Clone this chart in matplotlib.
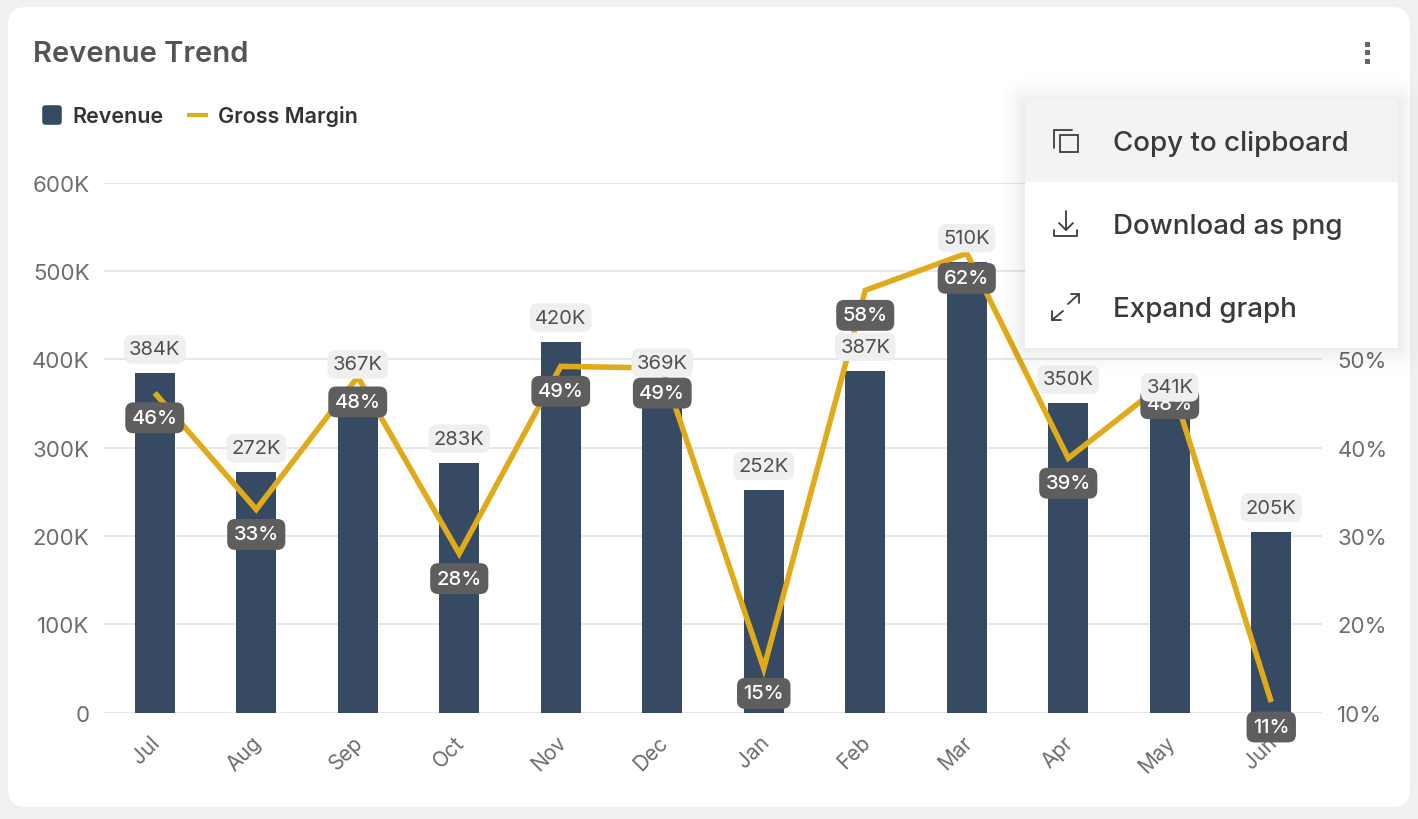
"""Revenue Trend card: revenue bars, gross margin line, open export menu."""

import matplotlib

matplotlib.use("Agg")
import matplotlib.pyplot as plt
from matplotlib.lines import Line2D
from matplotlib.markers import MarkerStyle
from matplotlib.patches import FancyBboxPatch, Rectangle
from matplotlib.transforms import ScaledTranslation

months = ["Jul", "Aug", "Sep", "Oct", "Nov", "Dec", "Jan", "Feb", "Mar", "Apr", "May", "Jun"]
revenue = [384, 272, 367, 283, 420, 369, 252, 387, 510, 350, 341, 205]
margin = [46.2, 33.0, 48.0, 28.0, 49.2, 49.0, 15.0, 57.8, 62.0, 38.8, 47.8, 11.2]
margin_labels = ["46%", "33%", "48%", "28%", "49%", "49%", "15%", "58%", "62%", "39%", "48%", "11%"]
revenue_ticks = [0, 100, 200, 300, 400, 500, 600]
revenue_tick_labels = ["0", "100K", "200K", "300K", "400K", "500K", "600K"]
margin_ticks = [10, 20, 30, 40, 50, 60, 70]
menu_items = ["Copy to clipboard", "Download as png", "Expand graph"]

NAVY = "#364a63"
GOLD = "#e0ab1b"
GRID = "#e1e2ee"
TICK = "#6d6d6d"
PX = 0.72  # points per pixel at dpi 100

plt.rcParams["font.family"] = ["Inter", "DejaVu Sans"]

fig = plt.figure(figsize=(14.18, 8.2), dpi=100, facecolor="#f2f0ee")


def pixel_axes(zorder):
    # full-figure axes in image pixels, for the card and menu chrome
    a = fig.add_axes([0, 0, 1, 1], zorder=zorder)
    a.set_xlim(0, 1418)
    a.set_ylim(820, 0)
    a.axis("off")
    return a


def rounded(a, x, y, w, h, r, **kw):
    a.add_patch(FancyBboxPatch((x + r, y + r), w - 2 * r, h - 2 * r,
                               boxstyle=f"round,pad={r},rounding_size={r}", lw=0, **kw))


# card
back = pixel_axes(0)
rounded(back, 8, 8, 1402, 800, 18, fc="white")
back.text(33, 55, "Revenue Trend", fontsize=21, fontweight="semibold", color="#545454", va="center")

# chart
ax = fig.add_axes([104 / 1418, 1 - 713.6 / 820, 1218 / 1418, 530 / 820], zorder=1)
ax.patch.set_visible(False)
ax.bar(range(12), revenue, width=0.394, color=NAVY)
ax.set_xlim(-0.5, 11.5)
ax.set_ylim(0, 600)
ax.set_yticks(revenue_ticks, revenue_tick_labels)
ax.set_xticks(range(12), months, rotation=45, ha="right", rotation_mode="anchor")
ax.grid(axis="y", color=GRID, lw=1.2)
ax.set_axisbelow(True)
ax.tick_params(axis="y", length=0, pad=10.5, labelsize=16, labelcolor=TICK)
ax.tick_params(axis="x", length=0, pad=13, labelsize=15, labelcolor=TICK)
shift = ScaledTranslation(-5 / 100, -1 / 100, fig.dpi_scale_trans)
for lab in ax.get_xticklabels():
    lab.set_transform(lab.get_transform() + shift)
for s in ax.spines.values():
    s.set_visible(False)

ax2 = ax.twinx()
ax2.set_zorder(2)
ax2.patch.set_visible(False)
ax2.plot(range(12), margin, color=GOLD, lw=4, solid_joinstyle="miter", solid_capstyle="butt")
ax2.set_ylim(10, 70)
ax2.set_yticks(margin_ticks, [f"{t}%" for t in margin_ticks])
ax2.tick_params(axis="y", length=0, pad=11, labelsize=16, labelcolor=TICK)
for s in ax2.spines.values():
    s.set_visible(False)

# pills: margin first so the revenue labels sit on top of them
for i, lab in enumerate(margin_labels):
    ax2.annotate(lab, (i, margin[i]), xytext=(0, -25 * PX), textcoords="offset points",
                 ha="center", va="center", fontsize=14.5, fontweight="medium", color="white",
                 annotation_clip=False, zorder=5,
                 bbox=dict(boxstyle="round,pad=0.32,rounding_size=0.4", fc="#5e5e5e", ec="none"))
for i, v in enumerate(revenue):
    ax2.annotate(f"{v}K", (i, v), xycoords=ax.transData, xytext=(0, 24 * PX), textcoords="offset points",
                 ha="center", va="center", fontsize=14.5, color="#505050",
                 annotation_clip=False, zorder=6,
                 bbox=dict(boxstyle="round,pad=0.26,rounding_size=0.4", fc="#efefef", ec="none"))

handles = [
    Line2D([], [], ls="none", marker=MarkerStyle("s", joinstyle="round"), ms=10.5, mfc=NAVY, mec=NAVY, mew=4,
           label="Revenue"),
    Line2D([], [], color=GOLD, lw=3, solid_capstyle="butt", label="Gross Margin"),
]
fig.legend(handles=handles, loc="upper left", bbox_to_anchor=(21.5 / 1418, 1 - 87 / 820), ncol=2, frameon=False,
           prop=dict(size=15.5, weight="semibold"), labelcolor="#333333", handlelength=1.0,
           handletextpad=0.45, columnspacing=1.1)

# export menu
top = pixel_axes(3)
for grow, alpha in zip(range(26, 0, -3), [0.004] * 3 + [0.006] * 3 + [0.01] * 3):
    rounded(top, 1025 - grow, 103 - grow, 373 + 2 * grow, 246 + 2 * grow, grow + 2, fc="black", alpha=alpha)
top.add_patch(Rectangle((1025, 101), 373, 248, fc="white", lw=0))
top.add_patch(Rectangle((1025, 101), 373, 82, fc="#f3f3f3", lw=0))
for lab, y in zip(menu_items, [144, 227, 310]):
    top.text(1113, y, lab, fontsize=20, fontweight="medium", color="#3a3a3a", va="center")

ICON = dict(color="#3d3d3d", lw=1.3, solid_capstyle="round")
# copy
top.add_patch(Rectangle((1060, 136), 18, 17, fc="none", ec="#3d3d3d", lw=1.3))
top.plot([1054, 1054, 1072], [149, 131, 131], **ICON)
# download
top.plot([1066, 1066], [212, 231], **ICON)
top.plot([1059, 1066, 1073], [224, 231, 224], **ICON)
top.plot([1054, 1054, 1077, 1077], [231, 237, 237, 231], **ICON)
# expand
top.plot([1079, 1068], [295, 305], **ICON)
top.plot([1052, 1063], [321, 312], **ICON)
top.plot([1071, 1079, 1079], [295, 295, 304], **ICON)
top.plot([1052, 1052, 1061], [312, 321, 321], **ICON)
# kebab dots
for y in [45, 53, 62]:
    top.add_patch(Rectangle((1365, y - 2.5), 5, 5, fc="#666666", lw=0))

fig.savefig("out.png", dpi=100, facecolor=fig.get_facecolor())
